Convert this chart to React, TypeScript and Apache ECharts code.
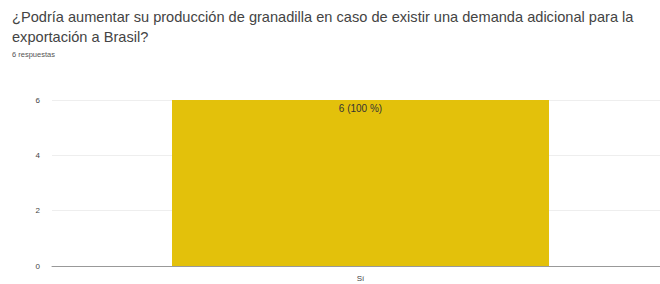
import React, { useEffect, useRef } from "react";
import * as echarts from "echarts";

const categories = ["Sí"];
const values = [6];
const barLabels = ["6 (100 %)"];
const yTicks = [0, 2, 4, 6];

export default function App() {
  const ref = useRef<HTMLDivElement>(null);
  useEffect(() => {
    const chart = echarts.init(ref.current!, null, { renderer: "svg" });
    chart.setOption({
      animation: false,
      title: [
        {
          text: "¿Podría aumentar su producción de granadilla en caso de existir una demanda adicional para la\nexportación a Brasil?",
          left: 7,
          top: 2,
          textStyle: { fontFamily: "Liberation Sans", fontSize: 14.6, fontWeight: "normal", color: "#444", lineHeight: 20 },
        },
        {
          text: "6 respuestas",
          left: 7,
          top: 45,
          textStyle: { fontFamily: "Liberation Sans", fontSize: 7.5, fontWeight: "normal", color: "#555" },
        },
      ],
      grid: { left: 52, right: 0, top: 100, bottom: 18 },
      xAxis: {
        type: "category",
        data: categories,
        axisTick: { show: false },
        axisLine: { lineStyle: { color: "#999", width: 1 } },
        axisLabel: { fontFamily: "Liberation Sans", fontSize: 8, color: "#444", margin: 8 },
      },
      yAxis: {
        type: "value",
        min: 0,
        max: yTicks[yTicks.length - 1],
        interval: 2,
        axisLabel: { fontFamily: "Liberation Sans", fontSize: 8, color: "#444", margin: 12 },
        splitLine: { lineStyle: { color: "#eee" } },
      },
      series: [
        {
          type: "bar",
          data: values,
          barWidth: 377,
          itemStyle: { color: "#e3c10b" },
          label: {
            show: true,
            position: "insideTop",
            distance: 3,
            formatter: (p: any) => barLabels[p.dataIndex],
            fontFamily: "Liberation Sans",
            fontSize: 10,
            color: "#333",
          },
        },
      ],
    });
    return () => chart.dispose();
  }, []);
  return (
    <div style={{ width: 660, height: 284, position: "absolute", left: 0, top: 0, overflow: "hidden" }}>
      <div ref={ref} style={{ width: 669, height: 284, position: "absolute", left: 0, top: 0 }} />
    </div>
  );
}
